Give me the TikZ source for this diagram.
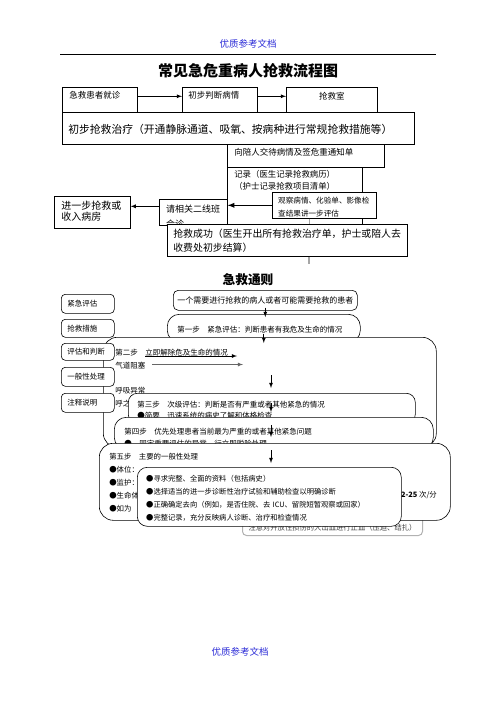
\documentclass[tikz,border=0pt]{standalone}
\usepackage{fontspec}
\setmainfont{Noto Sans CJK SC}
\usetikzlibrary{shapes.geometric, arrows}
\definecolor{hdrblue}{RGB}{45,45,215}
\tikzstyle{sqbox} = [rectangle, draw=black, line width=0.6pt, fill=white, anchor=north west, inner ysep=1pt, align=left]
\tikzstyle{rdbox} = [sqbox, rounded corners=12pt]
\tikzstyle{tagbox} = [sqbox, rounded corners=4pt, inner xsep=6pt, text width=41pt, font={\fontsize{7.5}{9}\selectfont}]
\tikzstyle{arrow} = [line width=0.8pt, -latex]
\tikzstyle{gline} = [draw=gray!70, line width=1.3pt]

\begin{document}
\begin{tikzpicture}[x=1pt, y=-1pt]
\useasboundingbox (0,0) rectangle (496,702);

% header
\node (hd) [font={\fontsize{9.5}{11}\selectfont}, text=hdrblue] at (248,44) {优质参考文档};
\coordinate (hl) at (60,54);
\coordinate (hr) at (436,54);
\draw[line width=0.8pt] (hl) -- (hr);
\node (tt) [font={\fontsize{15}{17}\selectfont\bfseries}] at (248,71) {常见急危重病人抢救流程图};

% flow chart
\node (b1) [sqbox, inner xsep=7pt, text width=61pt, text height=10.2pt, text depth=12.8pt, font={\fontsize{8.5}{10}\selectfont}] at (62,87) {急救患者就诊};
\node (b2) [sqbox, inner xsep=6pt, text width=63pt, text height=10.2pt, text depth=12.8pt, font={\fontsize{8.5}{10}\selectfont}] at (182,87) {初步判断病情};
\node (b3) [sqbox, inner xsep=4pt, text width=83pt, align=center, text height=11.2pt, text depth=12.8pt, font={\fontsize{8.5}{10}\selectfont}] at (286,87) {抢救室};
\node (cz) [sqbox, inner xsep=6pt, text width=340pt, text height=20.2pt, text depth=9.8pt, font={\fontsize{10.8}{13}\selectfont}] at (62,112) {初步抢救治疗（开通静脉通道、吸氧、按病种进行常规抢救措施等）};
\draw[arrow] ([yshift=3.5pt]b1.east) -- ([yshift=3.5pt]b2.west);
\draw[arrow] ([yshift=3.5pt]b2.east) -- ([yshift=3.5pt]b2.east -| b3.west);

\node (jd) [sqbox, inner xsep=7pt, text width=143pt, text height=10.2pt, text depth=10.8pt, font={\fontsize{8.5}{10}\selectfont}] at (227,144) {向陪人交待病情及签危重通知单};
\node (jl) [sqbox, inner xsep=7pt, text width=121pt, text height=9.2pt, text depth=45.8pt, font={\fontsize{8.4}{12}\selectfont}] at (227,167) {记录（医生记录抢救病历）\\（护士记录抢救项目清单）};

\node (jyb) [sqbox, inner xsep=7pt, text width=62pt, text height=11.8pt, text depth=18.2pt, font={\fontsize{10}{11.5}\selectfont}] at (54,196) {进一步抢救或\\收入病房};

\node (qxg) [sqbox, minimum width=68pt, minimum height=26pt, inner sep=0pt] at (159,199) {};
\begin{scope}
\clip ([xshift=-1pt]qxg.north west) rectangle ([xshift=1pt]qxg.south east);
\node (qxgt) [anchor=base west, inner sep=0pt, text width=56pt, align=left, font={\fontsize{9}{15}\selectfont}] at ([xshift=7pt,yshift=-13.4pt]qxg.north west) {请相关二线班\\会诊};
\end{scope}

\node (gc) [sqbox, minimum width=104pt, minimum height=26pt, inner sep=0pt] at (272,192) {};
\begin{scope}
\clip ([xshift=-1pt]gc.north west) rectangle ([xshift=1pt,yshift=2pt]gc.south east);
\node (gct) [anchor=base west, inner sep=0pt, text width=94pt, align=left, font={\fontsize{7.6}{12.5}\selectfont}] at ([xshift=6pt,yshift=-11.9pt]gc.north west) {观察病情、化验单、影像检\\查结果讲一步评估};
\end{scope}

\draw[arrow, line width=1.3pt] (gc.west) -- (gc.west -| qxg.east);
\draw[arrow] ([yshift=6pt]qxg.west) -- ([yshift=6pt]qxg.west -| jyb.east);

\node (suc) [sqbox, inner xsep=6pt, text width=228pt, text height=12.1pt, text depth=17.9pt, font={\fontsize{9.9}{14}\selectfont}] at (167,224) {抢救成功（医生开出所有抢救治疗单，护士或陪人去\\收费处初步结算）};
\draw[gline] ([xshift=-15pt]gc.south) -- ([xshift=-15pt]gc.south |- suc.north);
\coordinate (sucend) at (309,264);
\draw[gline] (sucend |- suc.south) -- (sucend);

% general rules
\node (tz) [font={\fontsize{12.7}{14}\selectfont\bfseries}] at (248,280) {急救通则};

\node (r0) [rdbox, rounded corners=5pt, minimum width=184pt, minimum height=20pt, inner sep=0pt, align=center, font={\fontsize{8}{9}\selectfont}] at (173,290) {一个需要进行抢救的病人或者可能需要抢救的患者};
\node (r1) [rdbox, inner xsep=10pt, text width=173pt, text height=16.9pt, text depth=9.1pt, font={\fontsize{7.5}{9}\selectfont}] at (167,314) {第一步　紧急评估：判断患者有我危及生命的情况};
\draw[arrow] ([yshift=3pt]r0.south) -- ([yshift=-3pt]r0.south |- r1.north);

\node (r2) [rdbox, rounded corners=14pt, inner xsep=12pt, text width=309pt, text height=16.85pt, text depth=91.15pt, font={\fontsize{7.5}{13.5}\selectfont}] at (103,337) {第二步　立即解除危及生命的情况\\气道阻塞\\[11pt]呼吸异常\\呼之};
\draw[arrow] ([yshift=9pt]r1.south) -- ([yshift=-6pt]r2.north -| r1.south);
\coordinate (s2a) at (145,356);
\coordinate (s2b) at (237,356);
\draw[arrow] (s2a) -- (s2b);
\coordinate (s2c) at (152,364.5);
\coordinate (s2d) at (243,364.5);
\draw[arrow, draw=gray!80!black] (s2c) -- (s2d);

\node (l1) [tagbox, minimum height=19pt] at (61,294) {紧急评估};
\node (l2) [tagbox, minimum height=18pt] at (61,319) {抢救措施};
\node (l3) [tagbox, minimum height=17pt] at (61,343) {评估和判断};
\node (l4) [tagbox, minimum height=19pt] at (61,367) {一般性处理};
\node (l5) [tagbox, minimum height=19pt] at (61,393) {注释说明};

\node (r3) [rdbox, rounded corners=9pt, inner xsep=9pt, text width=269pt, text height=12.85pt, text depth=15.15pt, font={\fontsize{7.5}{11}\selectfont}] at (128,393) {第三步　次级评估：判断是否有严重或者其他紧急的情况\\●简要　迅速系统的病史了解和体格检查};
\coordinate (d1) at (271,375);
\draw[arrow, shorten >=5pt] (d1) -- (d1 |- r3.north);

\node (r4) [rdbox, inner xsep=10pt, text width=299pt, text height=15.85pt, text depth=14.15pt, font={\fontsize{7.5}{12}\selectfont}] at (114,417) {第四步　优先处理患者当前最为严重的或者其他紧急问题\\●　固定重要评估的异常，行立即脱险处理};
\coordinate (d2) at (271,403);
\draw[arrow, shorten >=5pt] (d2) -- (d2 |- r4.north);

\node (zy) [sqbox, rounded corners=4pt, draw=gray!60, line width=1pt, inner xsep=6pt, text width=168pt, text height=23.8pt, text depth=4.2pt, text=gray!50!black, font={\fontsize{7.3}{9}\selectfont}] at (242,505) {注意对开放性损伤的大出血进行止血（压迫、结扎）};

\node (r5) [rdbox, rounded corners=14pt, inner xsep=10pt, text width=331pt, text height=14.8pt, text depth=60.2pt, font={\fontsize{7.4}{13}\selectfont}] at (99,443) {第五步　主要的一般性处理\\●体位：\\●监护：\\●生命体征\\●如为};
\node (rate) [anchor=base east, inner sep=0pt, font={\fontsize{7.4}{9}\selectfont}] at (437,497.8) {\textbf{12-25} 次/分};
\coordinate (d3) at (271,425);
\draw[arrow, shorten >=6pt] (d3) -- (d3 |- r5.north);

\node (r6) [rdbox, rounded corners=10pt, minimum width=264pt, minimum height=59pt, inner sep=0pt] at (137,467) {};
\begin{scope}
\clip (r6.north west) rectangle ([yshift=5.5pt]r6.south east);
\node (r6t) [anchor=base west, inner sep=0pt, text width=250pt, align=left, font={\fontsize{7.3}{13}\selectfont}] at ([xshift=9pt,yshift=-14.8pt]r6.north west) {●寻求完整、全面的资料（包括病史）\\●选择适当的进一步诊断性治疗试验和辅助检查以明确诊断\\●正确确定去向（例如，是否住院、去 ICU、留院短暂观察或回家）\\●完整记录，充分反映病人诊断、治疗和检查情况};
\end{scope}
\coordinate (d4) at (271,450);
\draw[arrow, shorten >=4pt] (d4) -- (d4 |- r6.north);

% footer
\node (ft) [font={\fontsize{9.5}{11}\selectfont}, text=hdrblue] at (240,652) {优质参考文档};

\end{tikzpicture}
\end{document}
